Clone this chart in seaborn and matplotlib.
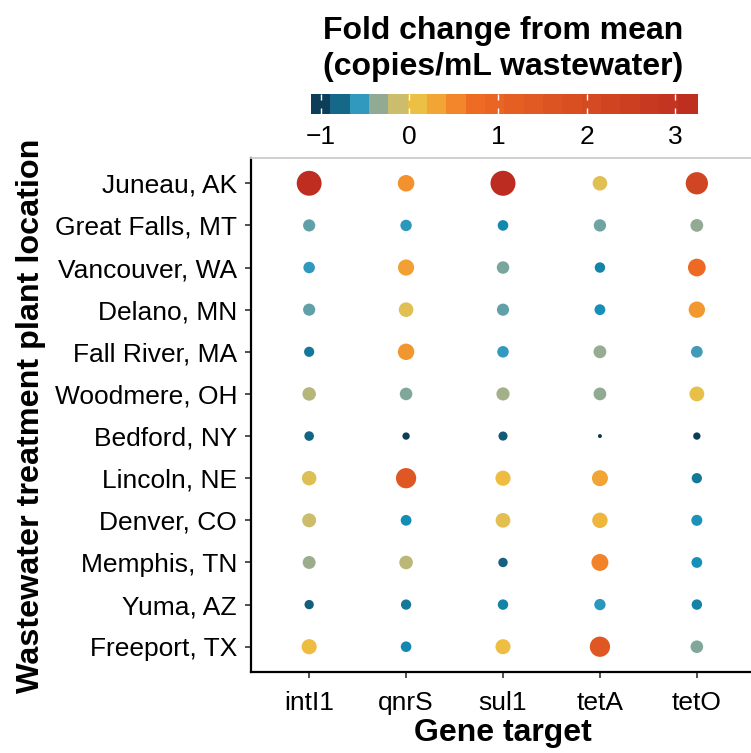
import numpy as np
import pandas as pd
import matplotlib
matplotlib.use("Agg")
import matplotlib.pyplot as plt
import seaborn as sns
from matplotlib.colors import LinearSegmentedColormap, ListedColormap, Normalize
import matplotlib.cm as cm

# ---------------- data ----------------
locations = ["Juneau, AK", "Great Falls, MT", "Vancouver, WA", "Delano, MN",
             "Fall River, MA", "Woodmere, OH", "Bedford, NY", "Lincoln, NE",
             "Denver, CO", "Memphis, TN", "Yuma, AZ", "Freeport, TX"]
genes = ["intI1", "qnrS", "sul1", "tetA", "tetO"]

intI1 = [3.20, -0.45, -0.55, -0.45, -0.73, -0.22, -0.80, -0.02, -0.13, -0.32, -0.83, 0.12]
qnrS  = [0.45, -0.57, 0.35, 0.00, 0.42, -0.38, -1.00, 1.50, -0.66, -0.20, -0.72, -0.68]
sul1  = [3.25, -0.68, -0.40, -0.45, -0.55, -0.28, -0.85, 0.12, 0.03, -0.82, -0.70, 0.10]
tetA  = [0.00, -0.42, -0.70, -0.65, -0.34, -0.35, -1.11, 0.32, 0.18, 0.55, -0.58, 1.50]
tetO  = [2.20, -0.35, 0.75, 0.40, -0.52, 0.05, -1.00, -0.72, -0.62, -0.65, -0.70, -0.38]

cbar_ticks = [-1, 0, 1, 2, 3]
cbar_title = "Fold change from mean\n(copies/mL wastewater)"
x_title = "Gene target"
y_title = "Wastewater treatment plant location"

series = {"intI1": intI1, "qnrS": qnrS, "sul1": sul1, "tetA": tetA, "tetO": tetO}
df = pd.DataFrame([(loc, g, series[g][i]) for g in genes for i, loc in enumerate(locations)],
                  columns=["location", "gene", "fold"])

vmin, vmax = df["fold"].min(), df["fold"].max()

# colour gradient
nodes = [(-1.113, "#0C3855"), (-1.0, "#0E3D5A"), (-0.78, "#156A8A"), (-0.66, "#1290B8"),
         (-0.56, "#3399BE"), (-0.35, "#95AB91"), (-0.13, "#CDBE6A"), (0.09, "#EDC043"),
         (0.31, "#F2A435"), (0.52, "#F3862A"), (0.74, "#EE6A24"), (3.252, "#BD2C20")]
pos = [(v - nodes[0][0]) / (nodes[-1][0] - nodes[0][0]) for v, _ in nodes]
cmap = LinearSegmentedColormap.from_list("fold", list(zip(pos, [c for _, c in nodes])))

# marker area (ggplot-like area scale: diameter 4px..25px)
r = (df["fold"] - vmin) / (vmax - vmin)
d_px = 4 + 21 * np.sqrt(r)
df["area"] = (d_px * 0.72) ** 2
amin, amax = df["area"].min(), df["area"].max()

# ---------------- figure ----------------
W, H = 751, 753
fig = plt.figure(figsize=(W / 100, H / 100), dpi=100)
plt.rcParams["font.family"] = ["Liberation Sans", "DejaVu Sans"]

ax = fig.add_axes([251 / W, 1 - 672 / H, (755 - 251) / W, (672 - 158) / H])
sns.scatterplot(data=df, x="gene", y="location", hue="fold", size="area",
                palette=cmap, hue_norm=(vmin, vmax),
                sizes=(amin, amax), size_norm=(amin, amax),
                linewidth=0, legend=False, ax=ax, zorder=3)

ax.set_xlim(-0.6, 4.6)
ax.set_ylim(11.6, -0.6)
ax.set_xlabel("")
ax.set_ylabel("")
for s in ["left", "bottom"]:
    ax.spines[s].set_color("black")
    ax.spines[s].set_linewidth(1.6)
ax.spines["top"].set_color("#CCCCCC")
ax.spines["top"].set_linewidth(1.3)
ax.spines["right"].set_visible(False)
ax.tick_params(axis="both", length=4, width=1.2, color="#333333",
               labelsize=19, labelcolor="black")
ax.tick_params(axis="y", pad=6)
ax.tick_params(axis="x", pad=10)
ax.set_facecolor("white")

fig.text(503 / W, 1 - 741 / H, x_title, ha="center", va="baseline",
         fontsize=23, fontweight="bold")
fig.text(31 / W, 1 - 416 / H, y_title, ha="center", va="center", rotation=90,
         fontsize=23.3, fontweight="bold")

# ---------------- colourbar ----------------
nb = 20
edges = np.linspace(vmin, vmax, nb + 1)
centers = (edges[:-1] + edges[1:]) / 2
bin_cmap = ListedColormap([cmap((c - vmin) / (vmax - vmin)) for c in centers])
sm = cm.ScalarMappable(norm=Normalize(vmin, vmax), cmap=bin_cmap)
cax = fig.add_axes([311 / W, 1 - 113.5 / H, 386.5 / W, 19.5 / H])
cb = fig.colorbar(sm, cax=cax, orientation="horizontal")
cb.outline.set_visible(False)
cb.set_ticks(cbar_ticks)
cax.tick_params(axis="x", direction="in", length=4, width=1, color="white",
                top=True, bottom=True, labelsize=19, pad=8)
fig.text(503 / W, 1 - 49 / H, cbar_title, ha="center", va="center",
         fontsize=23, fontweight="bold", linespacing=1.27)

fig.savefig("out.png", dpi=100, facecolor="white")
